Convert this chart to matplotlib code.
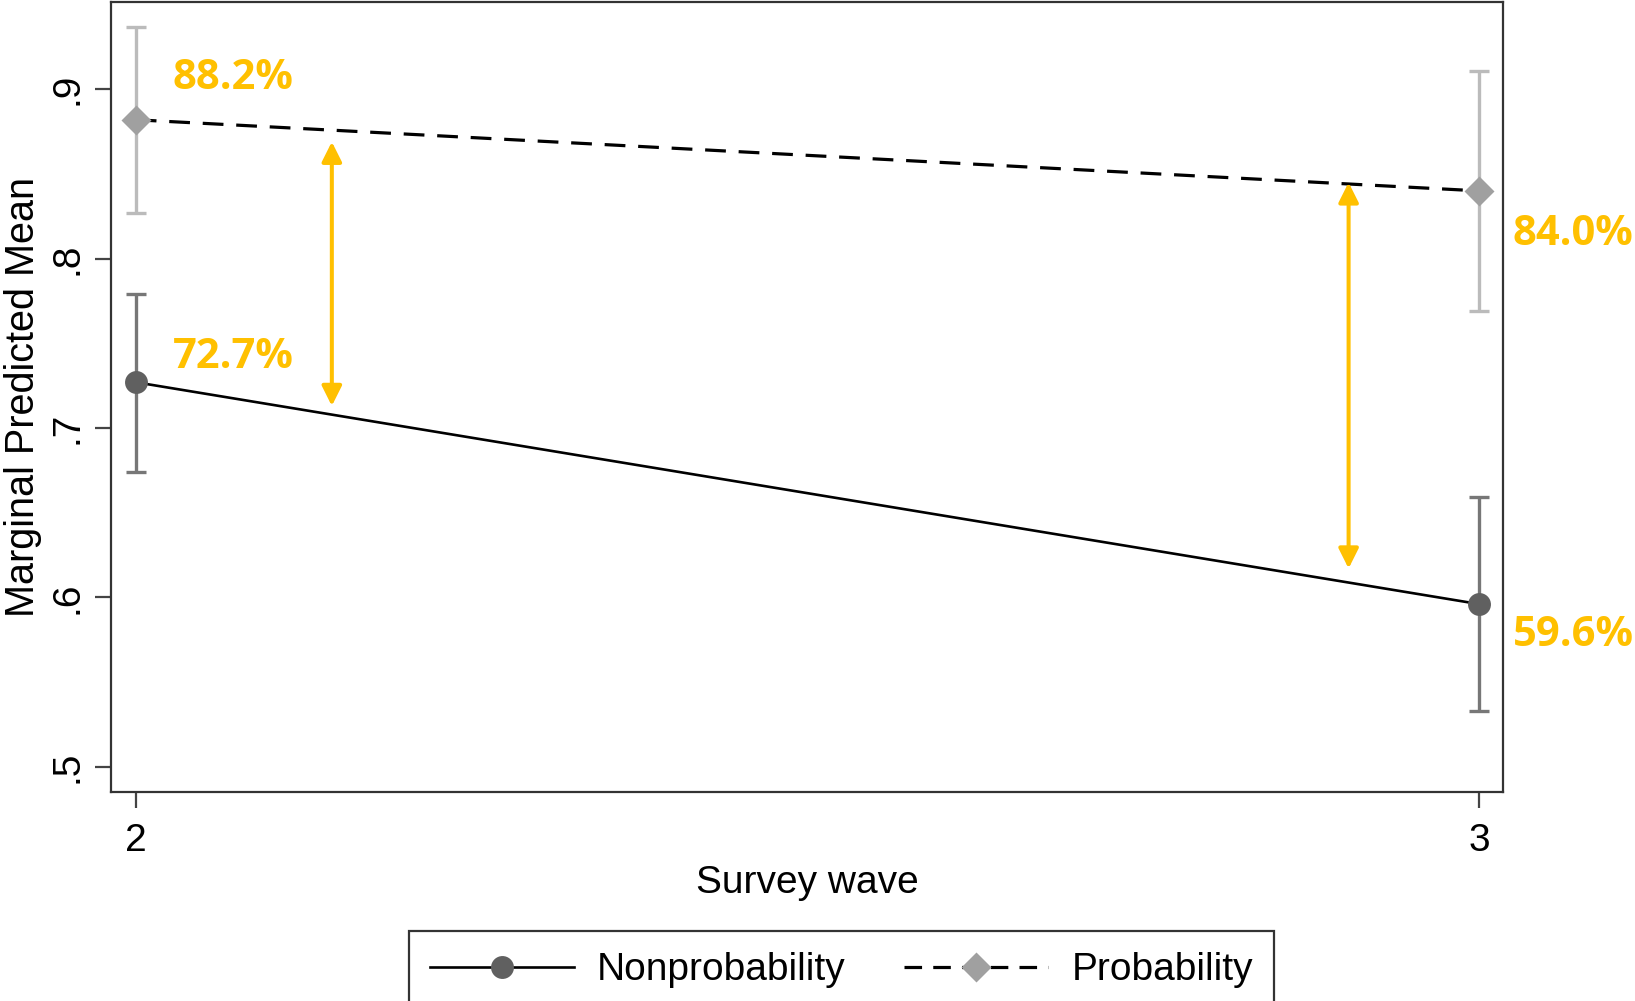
import numpy as np
import matplotlib
matplotlib.use("Agg")
import matplotlib.pyplot as plt
from matplotlib.lines import Line2D

# survey waves and marginal predicted means with 95% CIs
waves = [2, 3]
nonprob_mean = [0.727, 0.596]
nonprob_lo = [0.674, 0.533]
nonprob_hi = [0.779, 0.659]
prob_mean = [0.882, 0.840]
prob_lo = [0.827, 0.769]
prob_hi = [0.937, 0.911]

yticks = [0.5, 0.6, 0.7, 0.8, 0.9]
ytick_labels = [".5", ".6", ".7", ".8", ".9"]

# gap arrows between the two groups: x position, (lower end, upper end)
gap_x = [2.146, 2.903]
gap_ends = [(0.713, 0.869), (0.617, 0.845)]

gold = "#FFC000"

plt.rcParams['font.family'] = ['Liberation Sans', 'DejaVu Sans']

fig = plt.figure(figsize=(16.35, 10.01), dpi=100)
ax = fig.add_axes([0.0679, 0.2091, 0.8514, 0.789])

# confidence intervals
ax.errorbar(waves, nonprob_mean,
            yerr=[np.subtract(nonprob_mean, nonprob_lo), np.subtract(nonprob_hi, nonprob_mean)],
            fmt='none', ecolor='#777777', elinewidth=2.4, capsize=7.5, capthick=2.4, zorder=2)
ax.errorbar(waves, prob_mean,
            yerr=[np.subtract(prob_mean, prob_lo), np.subtract(prob_hi, prob_mean)],
            fmt='none', ecolor='#BBBBBB', elinewidth=2.4, capsize=7.5, capthick=2.4, zorder=2)

# means
ax.plot(waves, nonprob_mean, color='black', lw=1.9, zorder=3)
ax.plot(waves, prob_mean, color='black', lw=2.3, dashes=(6.5, 4.0), zorder=3)
ax.plot(waves, nonprob_mean, 'o', color='#606060', ms=16.5, mec='none', zorder=4)
ax.plot(waves, prob_mean, 'D', color='#A0A0A0', ms=15.5, mec='none', zorder=4)

# gap arrows
for x, (lo, hi) in zip(gap_x, gap_ends):
    ax.annotate('', xy=(x, hi), xytext=(x, lo),
                arrowprops=dict(arrowstyle='<|-|>,head_length=12,head_width=6',
                                mutation_scale=1, color=gold, lw=2.9,
                                shrinkA=0, shrinkB=0), zorder=5)

# percentage labels
offsets = {
    (0, 'n'): (26.5, 18), (1, 'n'): (24.5, -22.3),
    (0, 'p'): (26.5, 30), (1, 'p'): (24.5, -31.7),
}
for i, w in enumerate(waves):
    for key, vals in (('n', nonprob_mean), ('p', prob_mean)):
        ax.annotate(f"{vals[i] * 100:.1f}%", xy=(w, vals[i]), xytext=offsets[(i, key)],
                    textcoords='offset points', ha='left', va='center',
                    fontsize=30, fontweight='bold', family='Open Sans', color=gold,
                    annotation_clip=False, zorder=6)

ax.set_xlim(1.9816, 3.018)
ax.set_ylim(0.4852, 0.9516)
ax.set_xticks(waves)
ax.set_xticklabels([str(w) for w in waves])
ax.set_yticks(yticks)
ax.set_yticklabels(ytick_labels, rotation=90, va='center')

ax.tick_params(axis='both', direction='out', length=11.5, width=1.6,
               color='#444444', labelsize=28)
ax.tick_params(axis='y', pad=7)
ax.tick_params(axis='x', pad=11)
for s in ax.spines.values():
    s.set_color('#333333')
    s.set_linewidth(1.6)

ax.set_xlabel("Survey wave", fontsize=28, va='center')
ax.xaxis.set_label_coords(0.5, -0.115)
ax.set_ylabel("Marginal Predicted Mean", fontsize=28.5, va='center')
ax.yaxis.set_label_coords(-0.0632, 0.5)

handles = [
    Line2D([], [], color='black', lw=1.9, marker='o', ms=16.5,
           mfc='#606060', mec='none'),
    Line2D([], [], color='black', lw=2.3, dashes=(5.5, 3.5), marker='D', ms=15.5,
           mfc='#A0A0A0', mec='none'),
]
leg = fig.legend(handles, ["Nonprobability", "Probability"], ncol=2,
                 loc='upper center', bbox_to_anchor=(0.5147, 1 - 931 / 1001),
                 borderaxespad=0, fontsize=28, numpoints=1, handlelength=3.7,
                 handletextpad=0.6, columnspacing=1.5, fancybox=False, framealpha=1,
                 edgecolor='#333333', borderpad=0.55)
leg.get_frame().set_linewidth(1.6)

fig.savefig("out.png", dpi=100)
